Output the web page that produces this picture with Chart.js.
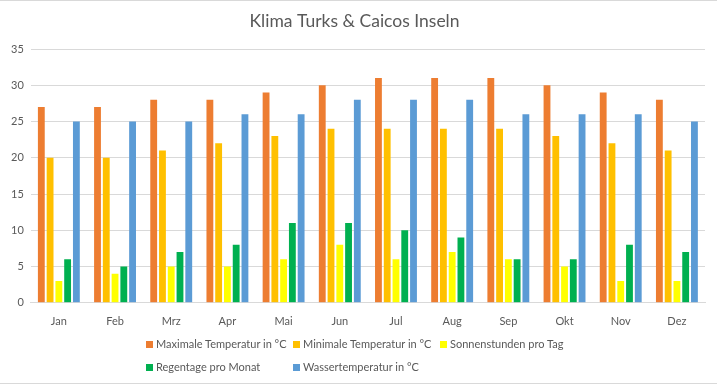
<!DOCTYPE html>
<html>
<head>
<meta charset="utf-8">
<script src="https://cdn.jsdelivr.net/npm/chart.js@4"></script>
<style>
  body { margin: 0; background: #fff; }
  #wrap { position: relative; width: 717px; height: 384px; box-sizing: border-box;
          border-top: 1px solid #d9d9d9; border-bottom: 1px solid #d9d9d9; }
  #legend { position: absolute; left: 146px; top: 336px; display: grid;
            grid-template-columns: 147px 147px 147px; row-gap: 9px; white-space: nowrap;
            font-family: Lato, "Open Sans", sans-serif; font-size: 11px; line-height: 14px; color: #595959; }
  #legend span.box { display: inline-block; width: 7px; height: 7px; margin-right: 3px; }
</style>
</head>
<body>
<div id="wrap">
  <canvas id="klimaChart" width="717" height="382"></canvas>
  <div id="legend"></div>
</div>
<script>
// Daten
const monate = ["Jan", "Feb", "Mrz", "Apr", "Mai", "Jun", "Jul", "Aug", "Sep", "Okt", "Nov", "Dez"];
const maxTemp = [27, 27, 28, 28, 29, 30, 31, 31, 31, 30, 29, 28];
const minTemp = [20, 20, 21, 22, 23, 24, 24, 24, 24, 23, 22, 21];
const sonnenstunden = [3, 4, 5, 5, 6, 8, 6, 7, 6, 5, 3, 3];
const regentage = [6, 5, 7, 8, 11, 11, 10, 9, 6, 6, 8, 7];
const wassertemp = [25, 25, 25, 26, 26, 28, 28, 28, 26, 26, 26, 25];

const serien = [
  { label: "Maximale Temperatur in °C", data: maxTemp, color: "#ED7D31" },
  { label: "Minimale Temperatur in °C", data: minTemp, color: "#FFC000" },
  { label: "Sonnenstunden pro Tag", data: sonnenstunden, color: "#FFFF00" },
  { label: "Regentage pro Monat", data: regentage, color: "#00B050" },
  { label: "Wassertemperatur in °C", data: wassertemp, color: "#5B9BD5" },
];

const ctx = document.getElementById("klimaChart");

new Chart(ctx, {
  type: "bar",
  data: {
    labels: monate,
    datasets: serien.map((s) => ({
      label: s.label,
      data: s.data,
      backgroundColor: s.color,
      borderWidth: 0,
      categoryPercentage: 0.78,
      barPercentage: 0.78,
    })),
  },
  options: {
    responsive: false,
    animation: false,
    layout: { padding: { left: 4, right: 12, top: 0, bottom: 51 } },
    plugins: {
      legend: { display: false },
      tooltip: { enabled: false },
      title: {
        display: true,
        text: "Klima Turks & Caicos Inseln",
        color: "#595959",
        font: { family: "Lato, 'Open Sans', sans-serif", size: 17.5, weight: "normal" },
        padding: { top: 10, bottom: 17 },
      },
    },
    scales: {
      x: {
        grid: { display: false },
        border: { color: "#d9d9d9" },
        ticks: { color: "#595959", font: { family: "Lato, sans-serif", size: 11 }, padding: 4 },
      },
      y: {
        min: 0,
        max: 35,
        ticks: { stepSize: 5, color: "#595959", font: { family: "Lato, sans-serif", size: 11 }, padding: 7 },
        grid: { color: "#d9d9d9", drawTicks: false },
        border: { display: false },
      },
    },
  },
});

// Legende
const legend = document.getElementById("legend");
serien.forEach((s) => {
  const item = document.createElement("div");
  item.innerHTML = `<span class="box" style="background:${s.color}"></span>${s.label}`;
  legend.appendChild(item);
});
</script>
</body>
</html>
